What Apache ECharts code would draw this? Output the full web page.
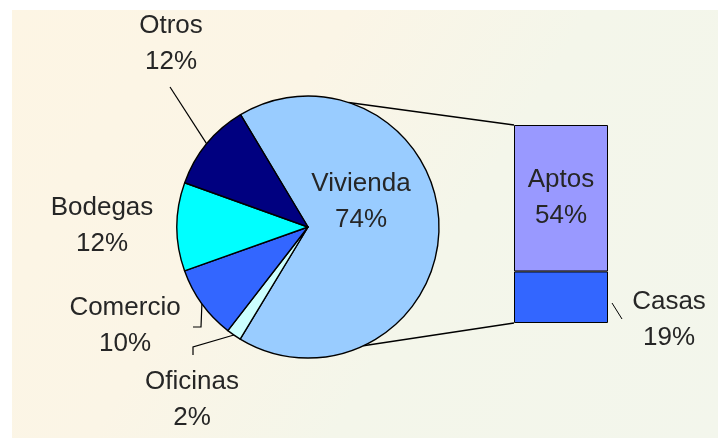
<!DOCTYPE html>
<html>
<head>
<meta charset="utf-8">
<script src="https://cdn.jsdelivr.net/npm/echarts@6/dist/echarts.min.js"></script>
<style>
html, body { margin: 0; padding: 0; background: #fff; }
#main { width: 718px; height: 438px; }
</style>
</head>
<body>
<div id="main"></div>
<script>
// pie slices, clockwise from the top of "Vivienda"
var pieNames = ['Vivienda', 'Oficinas', 'Comercio', 'Bodegas', 'Otros'];
var pieValues = [74, 2, 10, 12, 12];
// bar of pie, bottom to top
var barNames = ['Casas', 'Aptos'];
var barValues = [19, 54];

var pieColors = ['#99ccff', '#ccffff', '#3366ff', '#00ffff', '#000080'];
var barColors = ['#3366ff', '#9999ff'];

var pieCenter = [308, 227];
var pieRadius = 131;
var barBox = { left: 514, top: 125, width: 94, height: 198 };
var textFont = { fontFamily: 'Liberation Sans, Arial, sans-serif', fontSize: 26, color: '#262626', lineHeight: 36 };

// where each pie label sits, and bends of its leader line
var labelSpots = {
    Vivienda: { x: 361, y: 202 },
    Oficinas: { x: 192, y: 400, bends: [[193, 347], [193, 355]] },
    Comercio: { x: 125, y: 326, bends: [[201, 327], [193, 327]] },
    Bodegas: { x: 102, y: 226 },
    Otros: { x: 171, y: 44, bends: [[170, 87]] }
};

var dom = document.getElementById('main');
var myChart = echarts.init(dom);

var pieData = [];
for (var i = 0; i < pieNames.length; i++) {
    var spot = labelSpots[pieNames[i]];
    pieData.push({
        name: pieNames[i],
        value: pieValues[i],
        itemStyle: { color: pieColors[i] },
        labelLine: { show: !!spot.bends }
    });
}

var barSeries = [];
for (var j = 0; j < barNames.length; j++) {
    var lbl = {
        show: true,
        formatter: function (p) { return p.seriesName + '\n' + p.value + '%'; },
        fontFamily: textFont.fontFamily,
        fontSize: textFont.fontSize,
        color: textFont.color,
        lineHeight: textFont.lineHeight,
        align: 'center',
        verticalAlign: 'middle'
    };
    if (barNames[j] == 'Casas') {
        lbl.position = [barBox.width + 61, 48];
    } else {
        lbl.position = 'inside';
    }
    barSeries.push({
        name: barNames[j],
        type: 'bar',
        stack: 'vivienda',
        barWidth: '100%',
        data: [barValues[j]],
        itemStyle: { color: barColors[j], borderColor: '#000', borderWidth: 1 },
        label: lbl,
        z: 3
    });
}

var barTotal = 0;
for (var k = 0; k < barValues.length; k++) barTotal += barValues[k];

// connector lines from the pie to the bar corners
function piePoint(deg) {
    var a = deg * Math.PI / 180;
    return [pieCenter[0] + pieRadius * Math.cos(a), pieCenter[1] - pieRadius * Math.sin(a)];
}
var topPt = piePoint(72);
var botPt = piePoint(-65);
var barRight = barBox.left + barBox.width;
var barBottom = barBox.top + barBox.height;

option = {
    animation: false,
    graphic: [
        {
            type: 'rect',
            z: -10,
            silent: true,
            shape: { x: 12, y: 10, width: 718 - 12, height: 438 - 10 },
            style: {
                fill: new echarts.graphic.LinearGradient(0, 0, 1, 1, [
                    { offset: 0, color: '#fdf5e4' },
                    { offset: 0.35, color: '#fbf5e6' },
                    { offset: 0.6, color: '#f4f6ea' },
                    { offset: 1, color: '#f3f6ec' }
                ])
            }
        },
        {
            type: 'line',
            z: 1,
            silent: true,
            shape: { x1: topPt[0], y1: topPt[1], x2: barBox.left, y2: barBox.top },
            style: { stroke: '#000', lineWidth: 1.5 }
        },
        {
            type: 'line',
            z: 1,
            silent: true,
            shape: { x1: botPt[0], y1: botPt[1], x2: barBox.left, y2: barBottom },
            style: { stroke: '#000', lineWidth: 1.5 }
        },
        {
            type: 'line',
            z: 1,
            silent: true,
            shape: { x1: barRight + 4, y1: barBottom - 20, x2: barRight + 14, y2: barBottom - 4 },
            style: { stroke: '#000', lineWidth: 1 }
        }
    ],
    grid: {
        left: barBox.left,
        top: barBox.top,
        width: barBox.width,
        height: barBox.height
    },
    xAxis: { type: 'category', data: [''], show: false },
    yAxis: { type: 'value', min: 0, max: barTotal, show: false },
    series: [
        {
            name: 'Tipo',
            type: 'pie',
            center: pieCenter,
            radius: pieRadius,
            startAngle: 121,
            clockwise: true,
            data: pieData,
            itemStyle: { borderColor: '#000', borderWidth: 1.4 },
            label: {
                show: true,
                position: 'outside',
                formatter: function (p) { return p.name + '\n' + p.value + '%'; },
                fontFamily: textFont.fontFamily,
                fontSize: textFont.fontSize,
                color: textFont.color,
                lineHeight: textFont.lineHeight
            },
            labelLine: {
                show: true,
                length: 10,
                length2: 10,
                lineStyle: { color: '#000', width: 1.2 }
            },
            labelLayout: function (params) {
                var name = pieNames[params.dataIndex];
                var spot = labelSpots[name];
                var out = { x: spot.x, y: spot.y, align: 'center', verticalAlign: 'middle' };
                if (spot.bends && params.labelLinePoints) {
                    out.labelLinePoints = [params.labelLinePoints[0]].concat(spot.bends);
                }
                return out;
            },
            z: 2
        }
    ].concat(barSeries)
};

myChart.setOption(option);
</script>
</body>
</html>
